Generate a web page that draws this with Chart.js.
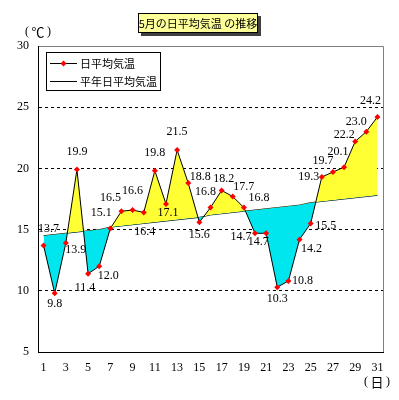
<!DOCTYPE html>
<html lang="ja">
<head>
<meta charset="utf-8">
<title>5月の日平均気温の推移</title>
<script src="https://cdn.jsdelivr.net/npm/chart.js@4.4.1/dist/chart.umd.min.js"></script>
<style>
  html, body { margin: 0; padding: 0; background: #fff; }
  #wrap { position: relative; width: 399px; height: 400px; }
</style>
</head>
<body>
<div id="wrap"><canvas id="grafico" width="399" height="400"></canvas></div>
<script>
// =====================================================
// DATA
// =====================================================
const days = [1, 2, 3, 4, 5, 6, 7, 8, 9, 10, 11, 12, 13, 14, 15, 16,
  17, 18, 19, 20, 21, 22, 23, 24, 25, 26, 27, 28, 29, 30, 31];
const dailyTemp = [13.7, 9.8, 13.9, 19.9, 11.4, 12.0, 15.1, 16.5, 16.6, 16.4,
  19.8, 17.1, 21.5, 18.8, 15.6, 16.8, 18.2, 17.7, 16.8, 14.7, 14.7, 10.3,
  10.8, 14.2, 15.5, 19.3, 19.7, 20.1, 22.2, 23.0, 24.2];
const normalTemp = [14.5, 14.6, 14.7, 14.8, 14.9, 15.0, 15.2, 15.3, 15.4, 15.5,
  15.6, 15.7, 15.8, 15.9, 16.0, 16.2, 16.3, 16.4, 16.5, 16.6, 16.7, 16.8,
  16.9, 17.0, 17.2, 17.3, 17.4, 17.5, 17.6, 17.7, 17.8];
const yTicks = [5, 10, 15, 20, 25, 30];
const xTicks = [1, 3, 5, 7, 9, 11, 13, 15, 17, 19, 21, 23, 25, 27, 29, 31];
const chartTitle = "5月の日平均気温 の推移";
const labelDaily = "日平均気温";
const labelNormal = "平年日平均気温";
const unitY = "℃";
const unitX = "日";

// label offset (px) from each point: [dx, dy]
const labelOffsets = [
  [5, -17], [0, 11], [10, 7], [0, -18], [-3, 14], [9, 10], [-9, -16],
  [-11, -13], [0, -19], [1, 19], [0, -18], [2, 9], [0, -18], [12, -6],
  [0, 13], [-5, -16], [2, -12], [11, -10], [15, -10], [-14, 4], [-8, 9],
  [0, 12], [14, 0], [12, 9], [15, 2], [-13, 0], [-10, -11], [-6, -15],
  [-11, -7], [-10, -10], [-7, -16],
];

const FONT_NUM = "Liberation Serif";
const FONT_JP = "'Noto Sans CJK JP'";

// =====================================================
// PLUGINS
// =====================================================
const framePlugin = {
  id: "frame",
  beforeDraw(chart) {
    const { ctx, chartArea: a } = chart;
    ctx.save();
    ctx.strokeStyle = "#808080";
    ctx.lineWidth = 1;
    ctx.beginPath();
    ctx.moveTo(a.left, a.top + 0.5);
    ctx.lineTo(a.right + 0.5, a.top + 0.5);
    ctx.lineTo(a.right + 0.5, a.bottom);
    ctx.stroke();
    ctx.restore();
  },
};

const valueLabels = {
  id: "valueLabels",
  afterDatasetsDraw(chart) {
    const { ctx } = chart;
    const meta = chart.getDatasetMeta(0);
    ctx.save();
    ctx.font = "12px " + FONT_NUM;
    ctx.fillStyle = "#000";
    ctx.textAlign = "center";
    ctx.textBaseline = "middle";
    meta.data.forEach((pt, i) => {
      const off = labelOffsets[i] || [0, -14];
      ctx.fillText(dailyTemp[i].toFixed(1), pt.x + off[0], pt.y + off[1]);
    });
    ctx.restore();
  },
};

// unit text like "(℃)" with spaced brackets
function drawUnit(ctx, text, cx, cy) {
  ctx.font = "12px " + FONT_NUM;
  ctx.fillText("(", cx - 11, cy);
  ctx.fillText(")", cx + 11, cy);
  ctx.font = "13px " + FONT_JP;
  ctx.fillText(text, cx, cy);
}

const decorations = {
  id: "decorations",
  afterDraw(chart) {
    const { ctx } = chart;
    ctx.save();

    // title box
    ctx.fillStyle = "#404040";
    ctx.fillRect(141, 16, 120, 20);
    ctx.fillStyle = "#ffff99";
    ctx.fillRect(138, 13, 120, 20);
    ctx.strokeStyle = "#000";
    ctx.lineWidth = 1;
    ctx.strokeRect(138.5, 13.5, 119, 19);
    ctx.fillStyle = "#000";
    ctx.font = "11px " + FONT_JP;
    ctx.textAlign = "center";
    ctx.textBaseline = "middle";
    ctx.fillText(chartTitle, 198, 23.5);

    // axis units
    drawUnit(ctx, unitY, 38, 32);
    drawUnit(ctx, unitX, 377, 382);

    // legend
    ctx.fillStyle = "#fff";
    ctx.fillRect(46, 52, 115, 39);
    ctx.strokeStyle = "#000";
    ctx.strokeRect(46.5, 52.5, 114, 38);
    ctx.beginPath();
    ctx.moveTo(50, 63.5);
    ctx.lineTo(77, 63.5);
    ctx.moveTo(50, 81.5);
    ctx.lineTo(77, 81.5);
    ctx.stroke();
    ctx.fillStyle = "#ff0000";
    ctx.beginPath();
    ctx.moveTo(63.5, 60.5);
    ctx.lineTo(66.5, 63.5);
    ctx.lineTo(63.5, 66.5);
    ctx.lineTo(60.5, 63.5);
    ctx.closePath();
    ctx.fill();
    ctx.fillStyle = "#000";
    ctx.font = "11px " + FONT_JP;
    ctx.textAlign = "left";
    ctx.fillText(labelDaily, 80, 63.5);
    ctx.fillText(labelNormal, 80, 81.5);

    ctx.restore();
  },
};

// =====================================================
// CHART
// =====================================================
const ctx = document.getElementById("grafico").getContext("2d");
new Chart(ctx, {
  type: "line",
  data: {
    labels: days,
    datasets: [
      {
        label: labelDaily,
        data: dailyTemp,
        borderColor: "#000",
        borderWidth: 1,
        tension: 0,
        pointStyle: "rectRot",
        pointRadius: 3,
        pointBorderWidth: 0,
        pointBackgroundColor: "#ff0000",
        fill: { target: 1, above: "#ffff33", below: "#00e6ee" },
      },
      {
        label: labelNormal,
        data: normalTemp,
        borderColor: "#000",
        borderWidth: 1,
        tension: 0,
        pointRadius: 0,
        fill: false,
      },
    ],
  },
  options: {
    responsive: false,
    animation: false,
    events: [],
    layout: { padding: { left: 0, top: 46, right: 16, bottom: 0 } },
    plugins: {
      legend: { display: false },
      tooltip: { enabled: false },
      title: { display: false },
    },
    scales: {
      x: {
        type: "category",
        offset: true,
        grid: { display: false, drawTicks: false },
        border: { display: true, color: "#000", width: 1 },
        ticks: {
          autoSkip: false,
          maxRotation: 0,
          padding: 9,
          color: "#000",
          font: { family: FONT_NUM, size: 12 },
          callback: (val, i) => (xTicks.includes(days[i]) ? String(days[i]) : ""),
        },
        afterFit: (s) => { s.height = 48; },
      },
      y: {
        min: 5,
        max: 30,
        grid: {
          drawTicks: false,
          color: (c) => (c.tick && c.tick.value > 5 && c.tick.value < 30 ? "#000" : "rgba(0,0,0,0)"),
          lineWidth: 1,
        },
        border: { display: true, color: "#000", width: 1, dash: [3, 3] },
        ticks: {
          padding: 9,
          color: "#000",
          font: { family: FONT_NUM, size: 12 },
        },
        afterBuildTicks: (s) => { s.ticks = yTicks.map((v) => ({ value: v })); },
        afterFit: (s) => { s.width = 38; },
      },
    },
  },
  plugins: [framePlugin, valueLabels, decorations],
});
</script>
</body>
</html>
